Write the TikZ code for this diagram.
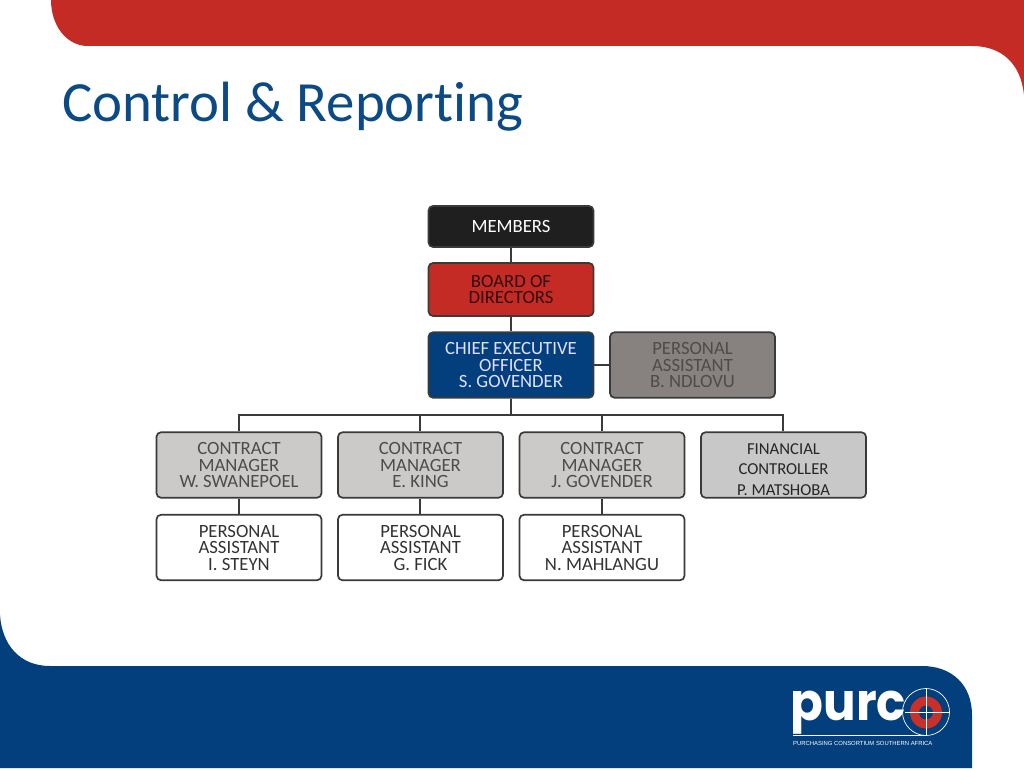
\documentclass[tikz,border=0pt]{standalone}
\usepackage{fontspec}
\setmainfont{Carlito}
\newfontfamily\logofont{Poppins}
\newfontfamily\tagfont{Liberation Sans}
\definecolor{purcored}{HTML}{C42B25}
\definecolor{logored}{HTML}{C9302A}
\definecolor{purcoblue}{HTML}{033F7C}
\definecolor{titleblue}{HTML}{0B4A84}
\definecolor{boxline}{HTML}{3A3A3A}
\tikzset{
  x=1pt,y=-1pt,
  orgbox/.style={draw=boxline,line width=1.7pt,rounded corners=4.5pt,minimum width=165pt,minimum height=65.5pt,align=center,inner sep=0pt,font=\fontsize{18.7}{16.5}\selectfont,text=#1},
  orgbox/.default=black,
  link/.style={draw=boxline,line width=1.7pt},
}
\begin{document}
\begin{tikzpicture}
\useasboundingbox (0,0) rectangle (1024,768);
% top band
\fill[purcored] (51,0) -- (1024,0) -- (1024,95) .. controls (1021,65) and (1003,46) .. (972,46) -- (88,46) .. controls (66,46) and (51,25) .. (51,0) -- cycle;
% bottom band
\fill[purcoblue] (0,768) -- (0,615) .. controls (2,645) and (20,666) .. (50,666) -- (922,666) .. controls (952,666) and (972,685) .. (972,715) -- (972,768) -- cycle;
\node[anchor=west,text=titleblue,font=\fontsize{56.8}{56}\addfontfeatures{Ligatures=NoCommon}\selectfont,inner sep=0pt] (title) at (62,106.5) {Control \& Reporting};
% boxes
\node[orgbox=white,fill=black!88,minimum height=41pt] (mem) at (511,226.5) {MEMBERS};
\node[orgbox={black!75!purcored},fill=purcored,minimum height=53pt] (bod) at (511,289.5) {BOARD OF\\DIRECTORS};
\node[orgbox={blue!12},fill=purcoblue] (ceo) at (511,365) {CHIEF EXECUTIVE\\OFFICER\\S. GOVENDER};
\node[orgbox={black!70},fill={rgb,255:red,135;green,130;blue,128}] (pa) at (692.5,365) {PERSONAL\\ASSISTANT\\B. NDLOVU};
\node[orgbox={black!70},fill={rgb,255:red,204;green,202;blue,200}] (cm1) at (239,465) {CONTRACT\\MANAGER\\W. SWANEPOEL};
\node[orgbox={black!70},fill={rgb,255:red,204;green,202;blue,200}] (cm2) at (420.5,465) {CONTRACT\\MANAGER\\E. KING};
\node[orgbox={black!70},fill={rgb,255:red,204;green,202;blue,200}] (cm3) at (602,465) {CONTRACT\\MANAGER\\J. GOVENDER};
\node[orgbox={black!85},fill={rgb,255:red,200;green,200;blue,200},font=\fontsize{16.7}{20}\selectfont] (fc) at (783.5,465) {\raisebox{-30pt}[0pt][0pt]{\shortstack[c]{FINANCIAL\\[6.5pt]CONTROLLER\\[6.5pt]P. MATSHOBA}}};
\node[orgbox={black!80},fill=white] (pa1) at (239,547.5) {PERSONAL\\ASSISTANT\\I. STEYN};
\node[orgbox={black!80},fill=white] (pa2) at (420.5,547.5) {PERSONAL\\ASSISTANT\\G. FICK};
\node[orgbox={black!80},fill=white] (pa3) at (602,547.5) {PERSONAL\\ASSISTANT\\N. MAHLANGU};
% connectors
\coordinate (bus) at (511,415);
\draw[link] (mem) -- (bod);
\draw[link] (bod) -- (ceo);
\draw[link] (ceo) -- (pa);
\draw[link] (ceo) -- (bus);
\draw[link] (cm1.north) |- (bus);
\draw[link] ([xshift=-0.5pt]cm2.north) |- (bus);
\draw[link] (cm3.north) |- (bus);
\draw[link] ([xshift=-0.5pt]fc.north) |- (bus);
\draw[link] (cm1) -- (pa1);
\draw[link] ([xshift=-0.5pt]cm2.south) -- ([xshift=-0.5pt]pa2.north);
\draw[link] (cm3) -- (pa3);
% logo
\draw[white,line width=0.7pt] (926,712) circle[radius=23.5];
\fill[logored,even odd rule] (926,712.5) circle[radius=16] (926,712.5) circle[radius=7];
\draw[white,line width=0.7pt] (926,688.5) -- (926,735.5) (905,712) -- (949.5,712);
\draw[white,line width=0.8pt] (793,735.5) -- (926,735.5);
\node[anchor=base west,text=white,font=\logofont\bfseries\fontsize{52}{52}\selectfont,inner sep=0pt,xscale=0.93] (logo) at (790.5,720) {purc};
\node[anchor=base west,text=white,font=\tagfont\fontsize{5.9}{7}\selectfont,inner sep=0pt] (tag) at (793,745) {PURCHASING CONSORTIUM SOUTHERN AFRICA};
\end{tikzpicture}
\end{document}
